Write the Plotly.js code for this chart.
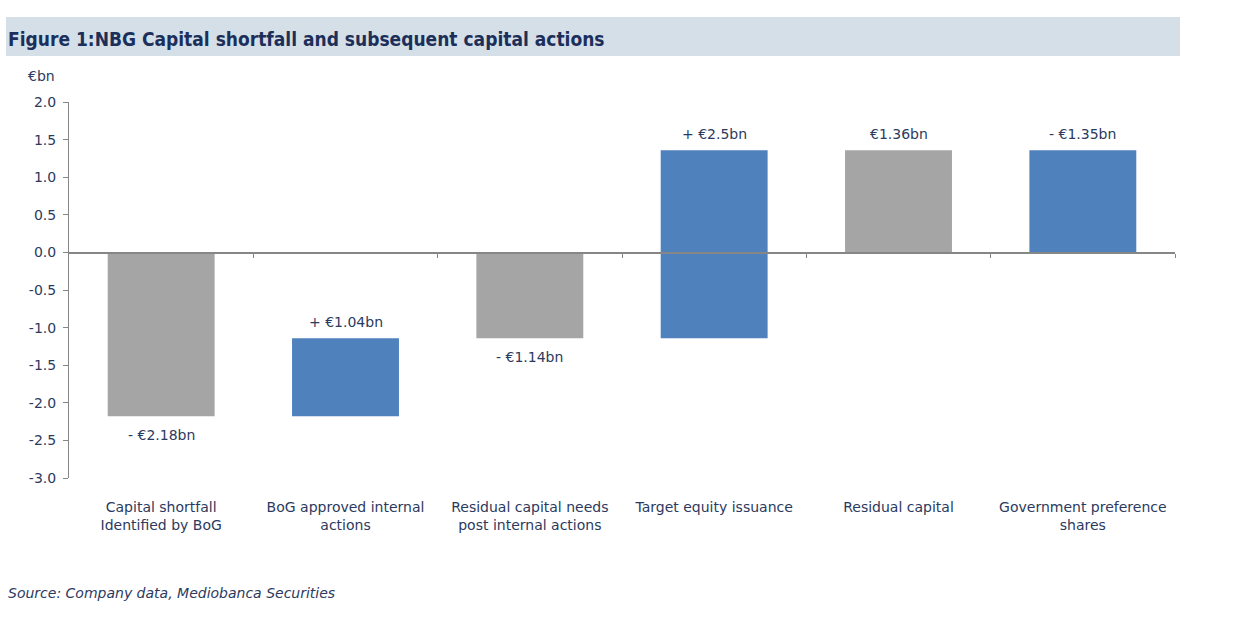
<!DOCTYPE html>
<html>
<head>
<meta charset="utf-8">
<script src="https://cdn.plot.ly/plotly-3.0.1.min.js"></script>
<style>html,body{margin:0;padding:0;background:#fff;}#chart{width:1255px;height:631px;}</style>
</head>
<body>
<div id="chart"></div>
<script>
// ---- data ----
var categories = [
  "Capital shortfall<br>Identified by BoG",
  "BoG approved internal<br>actions",
  "Residual capital needs<br>post internal actions",
  "Target equity issuance",
  "Residual capital",
  "Government preference<br>shares"
];
var barStart = [0, -2.18, 0, -1.14, 0, 1.36];
var barEnd   = [-2.18, -1.14, -1.14, 1.36, 1.36, 0];
var barKind  = ["total", "change", "total", "change", "total", "change"];
var barLabels = ["- €2.18bn", "+ €1.04bn", "- €1.14bn", "+ €2.5bn", "€1.36bn", "- €1.35bn"];
var labelSide = ["below", "above", "below", "above", "above", "above"];
var yTickVals = [-3, -2.5, -2, -1.5, -1, -0.5, 0, 0.5, 1, 1.5, 2];
var yTickText = ["-3.0", "-2.5", "-2.0", "-1.5", "-1.0", "-0.5", "0.0", "0.5", "1.0", "1.5", "2.0"];
var boundaryTicks = [0.5, 1.5, 2.5, 3.5, 4.5, 5.5];

// ---- build traces ----
function pick(kind) {
  var x = [], y = [], base = [];
  for (var i = 0; i < categories.length; i++) {
    if (barKind[i] === kind) {
      x.push(categories[i]);
      base.push(barStart[i]);
      y.push(barEnd[i] - barStart[i]);
    }
  }
  return {x: x, y: y, base: base};
}
var g = pick("total"), b = pick("change");
var traces = [
  {type: "scatter", mode: "markers", x: [], y: [], xaxis: "x2", yaxis: "y",
   hoverinfo: "skip", showlegend: false},
  {type: "bar", x: g.x, y: g.y, base: g.base, width: 0.58,
   marker: {color: "#a5a5a5", line: {width: 0}}, hoverinfo: "skip", showlegend: false},
  {type: "bar", x: b.x, y: b.y, base: b.base, width: 0.58,
   marker: {color: "#4f81bd", line: {width: 0}}, hoverinfo: "skip", showlegend: false}
];

var textColor = "#2b3a5e";
var fontFam = "'DejaVu Sans', sans-serif";
var titleFam = "'DejaVu Sans Condensed', 'DejaVu Sans', sans-serif";

var annotations = [];
for (var i = 0; i < categories.length; i++) {
  var above = labelSide[i] === "above";
  var edge = above ? Math.max(barStart[i], barEnd[i]) : Math.min(barStart[i], barEnd[i]);
  annotations.push({
    x: categories[i], y: edge, xref: "x", yref: "y",
    text: barLabels[i], showarrow: false,
    yanchor: above ? "bottom" : "top", yshift: above ? 6 : -9,
    font: {family: fontFam, size: 14, color: textColor}
  });
}
annotations.push({
  xref: "paper", yref: "paper", x: (26 - 69) / 1106, y: (478 - 76) / 376,
  xanchor: "left", yanchor: "middle", text: "€bn", showarrow: false,
  font: {family: fontFam, size: 14, color: textColor}
});
annotations.push({
  xref: "paper", yref: "paper", x: (6 - 69) / 1106, y: (478 - 593) / 376,
  xanchor: "left", yanchor: "middle", text: "<i>Source: Company data, Mediobanca Securities</i>", showarrow: false,
  font: {family: fontFam, size: 14, color: textColor}
});

var layout = {
  width: 1255, height: 631,
  margin: {l: 69, r: 80, t: 102, b: 153},
  paper_bgcolor: "#ffffff", plot_bgcolor: "#ffffff",
  barmode: "overlay",
  showlegend: false,
  title: {
    text: "<b>Figure 1:NBG Capital shortfall and subsequent capital actions</b>",
    xref: "container", yref: "container",
    x: 8 / 1255, xanchor: "left", y: 1 - 39 / 631, yanchor: "middle",
    font: {family: titleFam, size: 19, color: "#1b2f5a"}
  },
  xaxis: {
    type: "category", categoryorder: "array", categoryarray: categories,
    range: [-0.5, 5.5], showline: false, showgrid: false, zeroline: false,
    ticks: "", ticklabelstandoff: 19,
    tickfont: {family: fontFam, size: 14, color: textColor}
  },
  xaxis2: {
    overlaying: "x", anchor: "free", position: 0.6, range: [-0.5, 5.5],
    showline: true, linecolor: "#868686", linewidth: 1.5,
    ticks: "outside", ticklen: 4, tickcolor: "#868686", tickwidth: 1,
    tickvals: boundaryTicks, showticklabels: false, showgrid: false, zeroline: false
  },
  yaxis: {
    range: [-3, 2], showline: true, linecolor: "#868686", linewidth: 1,
    ticks: "outside", ticklen: 5, tickcolor: "#868686",
    tickvals: yTickVals, ticktext: yTickText, showgrid: false, zeroline: false,
    ticklabelstandoff: 4,
    tickfont: {family: fontFam, size: 14, color: textColor}
  },
  shapes: [{
    type: "rect", xref: "paper", yref: "paper", layer: "below",
    x0: (6 - 69) / 1106, x1: (1180 - 69) / 1106,
    y0: (478 - 56) / 376, y1: (478 - 17) / 376,
    fillcolor: "#d5dfe7", line: {width: 0}
  }],
  annotations: annotations
};

Plotly.newPlot("chart", traces, layout, {staticPlot: true, displayModeBar: false});
</script>
</body>
</html>
